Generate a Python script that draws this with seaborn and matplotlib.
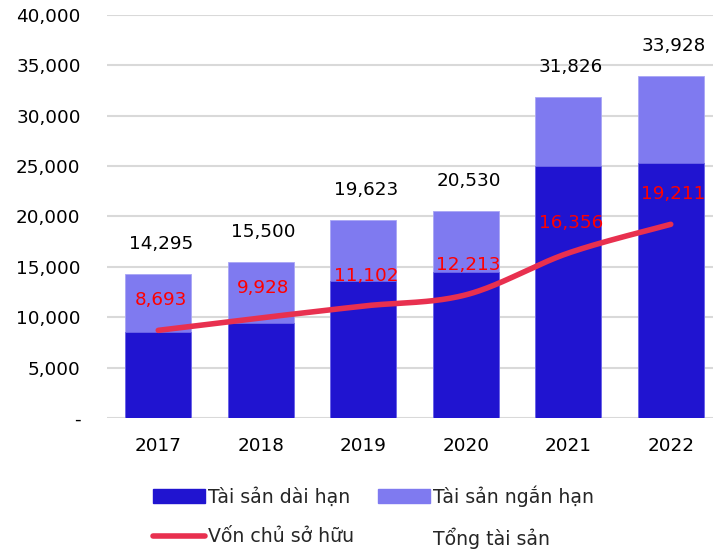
import numpy as np
import pandas as pd
import matplotlib
matplotlib.use("Agg")
import matplotlib.pyplot as plt
from matplotlib.patches import Patch
from matplotlib.lines import Line2D
from matplotlib.ticker import FuncFormatter
import seaborn as sns

years = ["2017", "2018", "2019", "2020", "2021", "2022"]
long_term = [8550, 9380, 13550, 14480, 25040, 25300]        # Tài sản dài hạn
short_term = [5745, 6120, 6073, 6050, 6786, 8628]           # Tài sản ngắn hạn
total_assets = [14295, 15500, 19623, 20530, 31826, 33928]   # Tổng tài sản
equity = [8693, 9928, 11102, 12213, 16356, 19211]           # Vốn chủ sở hữu

C_DARK = "#2014D0"
C_LIGHT = "#7F7AF0"
C_LINE = "#E8304F"
C_GRID = "#D9D9D9"

sns.set_theme(style="white")
plt.rcParams["font.family"] = ["DejaVu Sans"]
FS = 13.2
FSL = 13.6

fig = plt.figure(figsize=(7.13, 5.5), dpi=100)
ax = fig.add_axes([107 / 713, (550 - 418) / 550, (713 - 107) / 713, (418 - 14.7) / 550])

df = pd.DataFrame({"year": years, "long": long_term, "short": short_term,
                   "total": total_assets, "equity": equity})
df["stack"] = df["long"] + df["short"]

sns.barplot(data=df, x="year", y="stack", color=C_LIGHT, width=0.64,
            saturation=1, ax=ax, zorder=2, edgecolor="#A9A6F5", linewidth=0.6)
sns.barplot(data=df, x="year", y="long", color=C_DARK, width=0.64,
            saturation=1, ax=ax, zorder=3, edgecolor="#6F68E8", linewidth=0.6)


def smooth(xs, ys, n=40):
    xs = np.asarray(xs, float)
    ys = np.asarray(ys, float)
    P = np.column_stack([xs, ys])
    P = np.vstack([P[0], P, P[-1]])
    out = []
    for i in range(1, len(P) - 2):
        p0, p1, p2, p3 = P[i - 1], P[i], P[i + 1], P[i + 2]
        c1 = p1 + (p2 - p0) / 6
        c2 = p2 - (p3 - p1) / 6
        t = np.linspace(0, 1, n)[:, None]
        seg = ((1 - t) ** 3) * p1 + 3 * ((1 - t) ** 2) * t * c1 + 3 * (1 - t) * t ** 2 * c2 + t ** 3 * p2
        out.append(seg if i == 1 else seg[1:])
    return np.vstack(out)


xpos = np.arange(len(years))
curve = smooth(xpos, equity)
ax.plot(curve[:, 0], curve[:, 1], color=C_LINE, lw=4.0, solid_capstyle="round",
        zorder=4)

for i, (t, e) in enumerate(zip(total_assets, equity)):
    ax.annotate(f"{t:,}", (i, t), xytext=(2, 21.5), textcoords="offset points",
                ha="center", va="center", fontsize=FS, color="black", zorder=5)
    ax.annotate(f"{e:,}", (i, e), xytext=(2, 21.5), textcoords="offset points",
                ha="center", va="center", fontsize=FS, color="#FF0000", zorder=5)

ax.set_ylim(0, 40000)
ax.set_xlim(-0.5, -0.5 + 606 / 102.5)
ax.set_yticks(np.arange(0, 40001, 5000))
ax.yaxis.set_major_formatter(FuncFormatter(lambda v, p: "-" if v == 0 else f"{v:,.0f}"))
ax.grid(axis="y", color=C_GRID, lw=1.5, zorder=0)
ax.set_axisbelow(True)
for s in ax.spines.values():
    s.set_visible(False)
ax.tick_params(axis="y", length=0, pad=19, labelsize=FS, labelcolor="black")
ax.tick_params(axis="x", length=0, pad=14, labelsize=FS, labelcolor="black")
ax.set_xlabel("")
ax.set_ylabel("")

handles = [Patch(color=C_DARK), Line2D([], [], color=C_LINE, lw=4.0, solid_capstyle="round"),
           Patch(color=C_LIGHT), Line2D([], [], color="none")]
labels = ["Tài sản dài hạn", "Vốn chủ sở hữu", "Tài sản ngắn hạn", "Tổng tài sản"]
fig.legend(handles, labels, ncol=2, loc="center left",
           bbox_to_anchor=(153 / 713, 1 - 517 / 550),
           frameon=False, fontsize=FSL, handlelength=2.75, handletextpad=0.16,
           columnspacing=1.27, labelspacing=1.1, borderpad=0, borderaxespad=0)

fig.savefig("out.png", dpi=100)
